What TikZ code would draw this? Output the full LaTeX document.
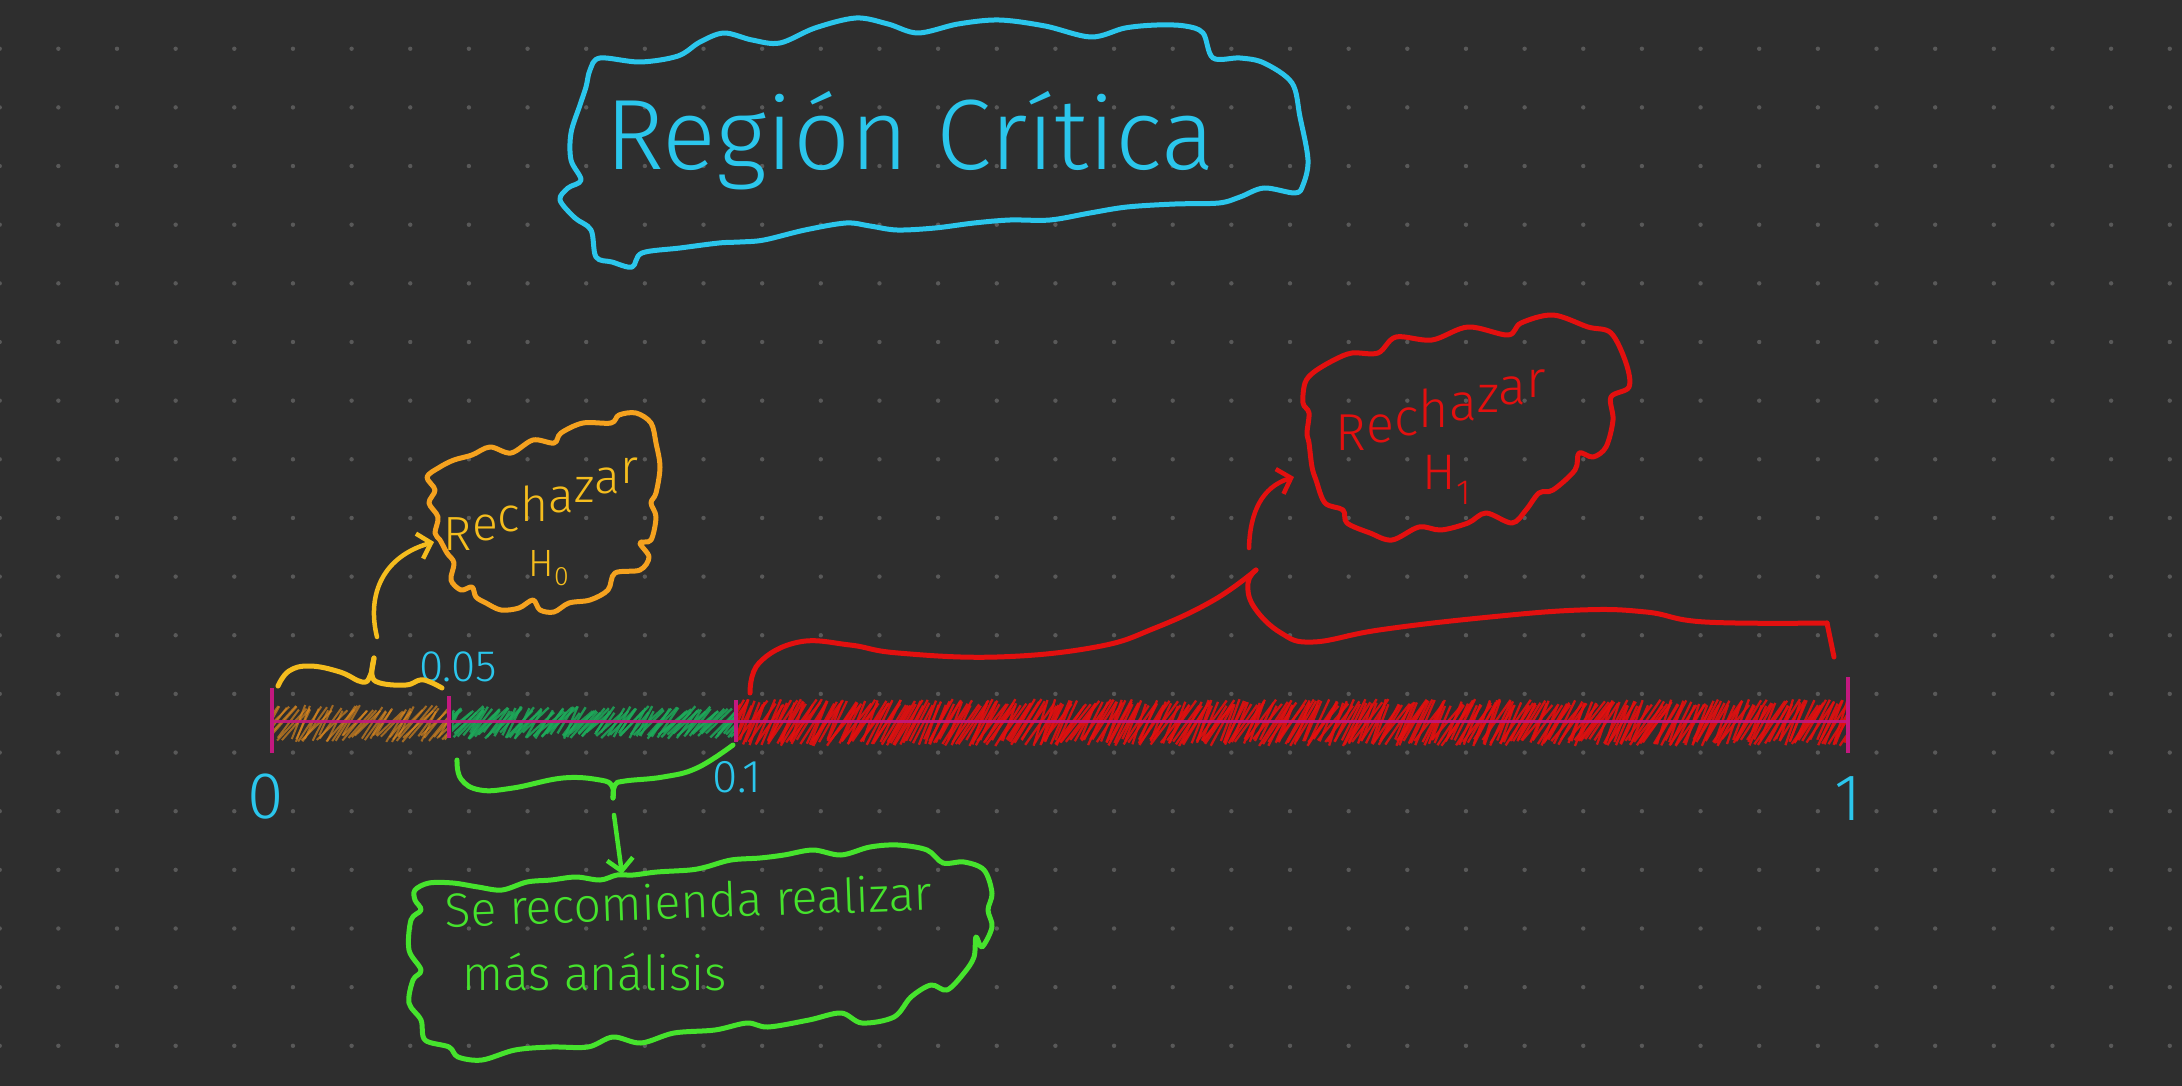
\documentclass[tikz,border=0pt]{standalone}
\usepackage{fontspec}
\setmainfont{Fira Sans}[UprightFont=* Light]
\usetikzlibrary{arrows.meta}
\definecolor{bgc}{HTML}{2E2E2E}
\definecolor{dotc}{HTML}{595959}
\definecolor{cyanc}{HTML}{2BC6EC}
\definecolor{magc}{HTML}{C3187F}
\definecolor{orhatch}{HTML}{E08A1E}
\definecolor{orcloud}{HTML}{F5A21F}
\definecolor{yelc}{HTML}{F5BD1E}
\definecolor{grhatch}{HTML}{1DAA5A}
\definecolor{grc}{HTML}{46E32D}
\definecolor{redc}{HTML}{E3100F}
\newcommand{\hatchband}[6]{%
  \begin{scope}
  \clip (#1,#3) rectangle (#2,#4);
  \pgfmathtruncatemacro{\hbn}{(#2-#1+30)/#6}
  \foreach \hbk in {0,...,\hbn}{%
    \pgfmathsetmacro{\hbx}{#1-15+\hbk*#6+2*rand}
    \pgfmathsetmacro{\hbyb}{#4-1-7*abs(rand)}
    \pgfmathsetmacro{\hbyt}{#3+1+7*abs(rand)}
    \pgfmathsetmacro{\hbdx}{22+9*rand}
    \draw[#5] (\hbx-\hbdx*0.5,\hbyb) -- (\hbx+\hbdx*0.5,\hbyt);
  }
  \end{scope}}
% letters on a rising baseline, as in the handwriting
\newcommand{\stp}[2]{\raisebox{#1}{#2}}
\newcommand{\risingword}[1]{R\stp{#1}{e\stp{#1}{c\stp{#1}{h\stp{#1}{a\stp{#1}{z\stp{#1}{a\stp{#1}{r}}}}}}}}
\begin{document}
\begin{tikzpicture}[x=1pt,y=-1pt,
  axisline/.style={draw=magc, line width=3pt, opacity=0.9},
  tickmark/.style={draw=magc, line width=4pt},
  bracepen/.style={line width=5pt, line cap=round, line join=round},
  cloudpen/.style={line width=5pt, line join=round},
  arrowpen/.style={line width=4.5pt, line cap=round, -{Straight Barb[length=12pt,width=26pt]}},
  lbl/.style={text=cyanc, inner sep=0pt},
  hatchO/.style={draw=orhatch, line width=2pt, opacity=0.65},
  hatchG/.style={draw=grhatch, line width=2.3pt, opacity=0.85},
  hatchR/.style={draw=redc, line width=2.3pt, opacity=0.9}]
\useasboundingbox (0,0) rectangle (2182,1086);
\fill[bgc] (0,0) rectangle (2182,1086);
\foreach \i in {0,...,37}
  \foreach \j in {0,...,17}
    \fill[dotc] (58.65*\i-0.3, 48.75+58.65*\j) circle (2.2);
\pgfmathsetseed{12}
% hatched bands
\hatchband{274}{450}{704}{743}{hatchO}{3.5}
\hatchband{452}{736}{705}{740}{hatchG}{3}
\hatchband{738}{1846}{698}{747}{hatchR}{3}
% number line
\coordinate (p0) at (272,721);
\coordinate (p005) at (449,721);
\coordinate (p01) at (736,721);
\coordinate (p1) at (1848,721);
\draw[axisline] (p0) -- (p1);
\draw[tickmark] (272,688) -- (272,753);
\draw[tickmark] (449,696) -- (449,738);
\draw[tickmark] (736,700) -- (736,742);
\draw[tickmark] (1848,677) -- (1848,753);
% labels
\node[lbl, font=\fontsize{66}{70}\selectfont] (l0) at (266,797) {0};
\node[lbl, font=\fontsize{44}{50}\selectfont] (l005) at (458,667) {0.05};
\node[lbl, font=\fontsize{46}{50}\selectfont] (l01) at (737,777) {0.1};
\node[lbl, font=\fontsize{66}{70}\selectfont] (l1) at (1848,799) {1};
% braces
\coordinate (ocusp) at (374,658);
\coordinate (gcusp) at (613,798);
\coordinate (rcusp) at (1256,570);
\draw[bracepen, yelc] plot[smooth, tension=0.7] coordinates {(278,686) (289,671) (310,666) (340,672) (362,682) (370,676) (374,658)};
\draw[bracepen, yelc] plot[smooth, tension=0.7] coordinates {(374,658) (372,675) (380,683) (406,685) (420,680) (430,682) (442,688)};
\draw[bracepen, grc] plot[smooth, tension=0.7] coordinates {(457,760) (461,779) (480,790) (513,788) (563,778) (600,780) (612,786) (613,798)};
\draw[bracepen, grc] plot[smooth, tension=0.7] coordinates {(613,798) (615,785) (625,781) (663,777) (697,768) (733,745)};
\draw[bracepen, redc] plot[smooth, tension=0.7] coordinates {(750,693) (759,663) (799,642) (850,645) (898,653) (997,657) (1096,647) (1155,628) (1214,600) (1256,570)};
\draw[bracepen, redc] plot[smooth, tension=0.7] coordinates {(1256,570) (1248,583) (1254,607) (1281,633) (1313,642) (1379,630) (1480,618) (1580,610) (1646,612) (1705,622) (1827,623)};
\draw[bracepen, redc] (1827,623) -- (1834,657);
% clouds
\draw[cloudpen, cyanc] plot[smooth cycle, tension=0.55] coordinates {(600,58) (640,62) (678,56) (700,42) (724,33) (752,40) (780,43) (815,28) (856,18) (888,24) (918,33) (958,24) (999,20) (1045,26) (1091,37) (1125,28) (1157,25) (1185,26) (1203,33) (1213,58) (1240,58) (1264,63) (1292,83) (1300,117) (1308,160) (1303,185) (1295,193) (1264,188) (1240,197) (1219,203) (1175,204) (1127,207) (1090,213) (1050,220) (1010,220) (974,223) (935,228) (897,230) (870,226) (846,223) (805,230) (764,240) (740,242) (719,243) (680,248) (642,253) (632,267) (612,262) (596,257) (591,230) (575,218) (560,200) (568,188) (581,180) (571,160) (571,133) (580,105) (586,87) (590,70)};
\draw[cloudpen, orcloud] plot[smooth cycle, tension=0.55] coordinates {(440,467) (454,460) (472,455) (490,447) (511,453) (533,440) (554,443) (561,433) (583,423) (611,423) (619,415) (636,413) (651,423) (656,443) (660,467) (656,493) (651,503) (656,517) (651,540) (640,543) (649,557) (640,570) (615,573) (608,590) (590,600) (569,603) (554,612) (540,610) (533,600) (519,608) (501,610) (486,603) (476,597) (472,587) (461,590) (451,580) (454,563) (447,553) (440,540) (435,533) (438,517) (429,503) (435,490) (427,477)};
\draw[cloudpen, redc] plot[smooth cycle, tension=0.55] coordinates {(1314,372) (1334,360) (1352,353) (1378,353) (1396,337) (1432,340) (1468,327) (1508,335) (1521,323) (1553,315) (1588,327) (1611,333) (1626,363) (1629,387) (1611,397) (1613,420) (1606,447) (1593,457) (1579,453) (1575,470) (1553,490) (1539,493) (1526,510) (1512,523) (1486,513) (1468,523) (1441,530) (1419,527) (1392,540) (1370,533) (1347,523) (1343,510) (1325,503) (1316,480) (1312,467) (1309,443) (1307,433) (1309,413) (1303,403) (1305,383)};
\draw[cloudpen, grc] plot[smooth cycle, tension=0.55] coordinates {(415,890) (429,883) (453,883) (478,887) (502,890) (527,882) (551,880) (576,877) (600,880) (617,875) (633,875) (657,872) (690,870) (706,867) (731,860) (760,858) (784,855) (813,850) (841,855) (870,847) (898,845) (927,850) (943,863) (964,862) (984,870) (992,893) (988,910) (992,927) (982,947) (976,937) (974,957) (964,973) (947,990) (931,985) (911,997) (894,1017) (862,1023) (841,1013) (809,1020) (768,1027) (747,1023) (715,1030) (674,1033) (641,1043) (613,1037) (588,1047) (551,1047) (515,1050) (482,1060) (458,1057) (449,1047) (425,1040) (421,1020) (409,1003) (413,980) (421,970) (409,950) (411,920) (421,910) (415,900)};
% arrow tips
\coordinate (otip) at (434,542);
\coordinate (rtip) at (1294,477);
\coordinate (gtip) at (622,874);
\draw[arrowpen, yelc] ([xshift=3pt,yshift=21pt]ocusp) .. controls (366,592) and (385,556) .. (otip);
\draw[arrowpen, redc] ([xshift=-7pt,yshift=22pt]rcusp) .. controls (1250,512) and (1262,487) .. (rtip);
\draw[arrowpen, grc] ([xshift=1pt,yshift=-17pt]gcusp) -- (gtip);
% texts
\node[text=cyanc, font=\fontsize{100}{110}\selectfont, anchor=base, inner sep=0pt] (title) at (910,170) {Región Crítica};
\node[text=yelc, font=\fontsize{48}{54}\selectfont\addfontfeature{LetterSpace=4}, inner sep=0pt] (orech) at (541,504) {\risingword{9.5pt}};
\node[text=yelc, font=\fontsize{38}{44}\selectfont, inner sep=0pt] (oh) at (549,568) {H\textsubscript{0}};
\node[text=redc, font=\fontsize{52}{58}\selectfont\addfontfeature{LetterSpace=5}, inner sep=0pt] (rrech) at (1441,410) {\risingword{7.6pt}};
\node[text=redc, font=\fontsize{50}{56}\selectfont, inner sep=0pt] (rh) at (1447,480) {H\textsubscript{1}};
\node[text=grc, font=\fontsize{48}{54}\selectfont, anchor=base west, inner sep=0pt, rotate=2] (g1) at (445,927) {Se recomienda realizar};
\node[text=grc, font=\fontsize{48}{54}\selectfont, anchor=base west, inner sep=0pt] (g2) at (462,990) {más análisis};
\end{tikzpicture}
\end{document}
